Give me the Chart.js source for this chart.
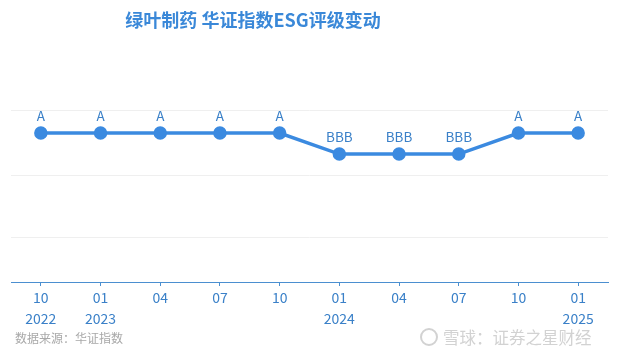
<!DOCTYPE html>
<html><head><meta charset="utf-8">
<script src="https://cdn.jsdelivr.net/npm/chart.js@4/dist/chart.umd.min.js"></script>
<style>html,body{margin:0;padding:0;background:#fff}#wrap{width:618px;height:355px;position:relative}</style>
</head><body><div id="wrap"><canvas id="c" width="618" height="355"></canvas></div>
<script>
const categories = [["10","2022"],["01","2023"],"04","07","10",["01","2024"],"04","07","10",["01","2025"]];
const ratings = ["A","A","A","A","A","BBB","BBB","BBB","A","A"];
const ratingScale = {"AAA":9,"AA":8,"A":6,"BBB":5,"BB":4,"B":3};
const values = ratings.map(r => ratingScale[r]);
const gridTicks = [1, 4, 7.1];
const titleText = "绿叶制药 华证指数ESG评级变动";
const sourceText = "数据来源：华证指数";
const watermarkText = "雪球：证券之星财经";

const CJK = '"Noto Sans CJK SC","Noto Sans",sans-serif';
const blue = '#3b8ae0';
const labelBlue = '#3a80c8';

const overlay = {
  id: 'overlay',
  afterDatasetsDraw(chart) {
    const ctx = chart.ctx;
    const meta = chart.getDatasetMeta(0);
    ctx.save();
    ctx.font = '13.5px ' + CJK;
    ctx.fillStyle = labelBlue;
    ctx.textAlign = 'center';
    ctx.textBaseline = 'middle';
    meta.data.forEach((pt, i) => { ctx.fillText(ratings[i], pt.x, pt.y - 17); });
    ctx.restore();
  },
  afterDraw(chart) {
    const ctx = chart.ctx;
    ctx.save();
    ctx.font = 'bold 18px ' + CJK;
    ctx.fillStyle = '#3a88d8';
    ctx.textAlign = 'center';
    ctx.textBaseline = 'middle';
    ctx.fillText(titleText, 253, 20);
    ctx.font = '12px ' + CJK;
    ctx.fillStyle = '#a8a8a8';
    ctx.textAlign = 'left';
    ctx.fillText(sourceText, 15, 338);
    // watermark
    ctx.fillStyle = '#d2d2d2';
    ctx.strokeStyle = '#d2d2d2';
    ctx.lineWidth = 2;
    ctx.beginPath(); ctx.arc(429, 337, 8, 0, Math.PI*2); ctx.stroke();
    ctx.font = '16.5px ' + CJK;
    ctx.fillText(watermarkText, 443, 338);
    ctx.restore();
  }
};

new Chart(document.getElementById('c'), {
  type: 'line',
  data: {
    labels: categories,
    datasets: [{
      data: values,
      borderColor: blue,
      backgroundColor: blue,
      borderWidth: 3.5,
      pointRadius: 5,
      pointHoverRadius: 5,
      pointBackgroundColor: blue,
      pointBorderColor: blue,
      tension: 0
    }]
  },
  options: {
    responsive: false,
    animation: false,
    devicePixelRatio: 1,
    layout: { padding: { top: 110, left: 11, right: 10, bottom: 0 } },
    plugins: { legend: { display: false }, title: { display: false }, tooltip: { enabled: false } },
    scales: {
      x: {
        offset: true,
        grid: { display: true, drawOnChartArea: false, drawTicks: true, tickLength: 4, color: '#4b8fd0' },
        border: { display: true, color: '#4b8fd0', width: 1 },
        ticks: { color: labelBlue, font: { size: 14, family: CJK, lineHeight: 1.45 }, padding: 2, maxRotation: 0, autoSkip: false },
        afterFit(s) { s.height = 73; }
      },
      y: {
        min: -1.1, max: 7.1,
        afterBuildTicks(s) { s.ticks = gridTicks.map(v => ({ value: v })); },
        ticks: { display: false },
        grid: { color: '#efefef', drawTicks: false },
        border: { display: false },
        afterFit(s) { s.width = 0; }
      }
    }
  },
  plugins: [overlay]
});
</script></body></html>
